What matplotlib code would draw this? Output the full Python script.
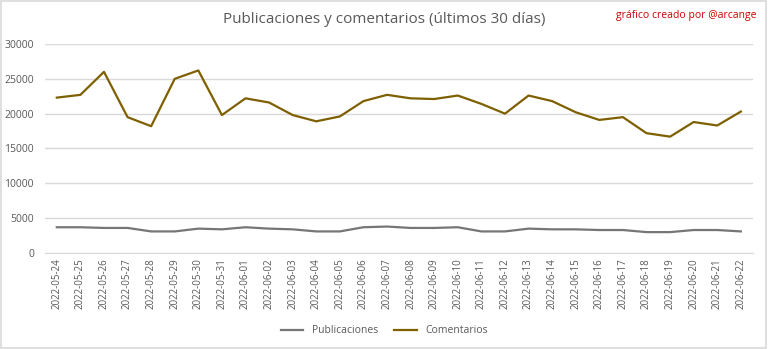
import matplotlib.pyplot as plt
import matplotlib.patches as mpatches

# daily dates and counts
fechas = ["2022-05-24", "2022-05-25", "2022-05-26", "2022-05-27", "2022-05-28",
          "2022-05-29", "2022-05-30", "2022-05-31", "2022-06-01", "2022-06-02",
          "2022-06-03", "2022-06-04", "2022-06-05", "2022-06-06", "2022-06-07",
          "2022-06-08", "2022-06-09", "2022-06-10", "2022-06-11", "2022-06-12",
          "2022-06-13", "2022-06-14", "2022-06-15", "2022-06-16", "2022-06-17",
          "2022-06-18", "2022-06-19", "2022-06-20", "2022-06-21", "2022-06-22"]
publicaciones = [3700, 3700, 3600, 3600, 3100, 3100, 3500, 3400, 3700, 3500,
                 3400, 3100, 3100, 3700, 3800, 3600, 3600, 3700, 3100, 3100,
                 3500, 3400, 3400, 3300, 3300, 3000, 3000, 3300, 3300, 3100]
comentarios = [22300, 22700, 26000, 19500, 18200, 25000, 26200, 19800, 22200, 21600,
               19800, 18900, 19600, 21800, 22700, 22200, 22100, 22600, 21400, 20000,
               22600, 21800, 20200, 19100, 19500, 17200, 16700, 18800, 18300, 20300]

plt.rcParams['font.family'] = ['Open Sans', 'DejaVu Sans']

fig = plt.figure(figsize=(7.68, 3.49), dpi=100)
ax = fig.add_axes([0.0586, 0.275, 0.9214, 0.599])

x = range(len(fechas))
ax.plot(x, publicaciones, color='#767676', lw=1.6, label='Publicaciones')
ax.plot(x, comentarios, color='#7F6000', lw=1.6, label='Comentarios')

ax.set_xlim(-0.5, len(fechas) - 0.5)
ax.set_ylim(0, 30000)
ax.set_yticks(range(0, 30001, 5000))
ax.set_xticks(list(x))
ax.set_xticklabels(fechas, rotation=90, fontsize=7, color='#595959')
ax.tick_params(axis='y', labelsize=7.5, labelcolor='#595959', length=0, pad=8)
ax.tick_params(axis='x', length=0, pad=4)
ax.grid(axis='y', color='#D9D9D9', lw=1)
ax.set_axisbelow(True)
for s in ['top', 'right', 'left']:
    ax.spines[s].set_visible(False)
ax.spines['bottom'].set_color('#D9D9D9')

fig.text(0.5, 0.943, 'Publicaciones y comentarios (últimos 30 días)',
         ha='center', va='center', fontsize=11, color='#595959')
fig.text(0.985, 0.955, 'gráfico creado por @arcange', ha='right', va='center',
         fontsize=7.5, color='#D00000')

fig.legend(loc='center', bbox_to_anchor=(0.5, 0.052), ncol=2, frameon=False,
           fontsize=7.5, handlelength=2.2, columnspacing=1.5, labelcolor='#595959')

# thin frame around the whole chart
fig.patches.append(mpatches.Rectangle((0.001, 0.002), 0.997, 0.995, transform=fig.transFigure,
                                      fill=False, edgecolor='#D9D9D9', lw=1.2))

fig.savefig('out.png', dpi=100, facecolor='white')
